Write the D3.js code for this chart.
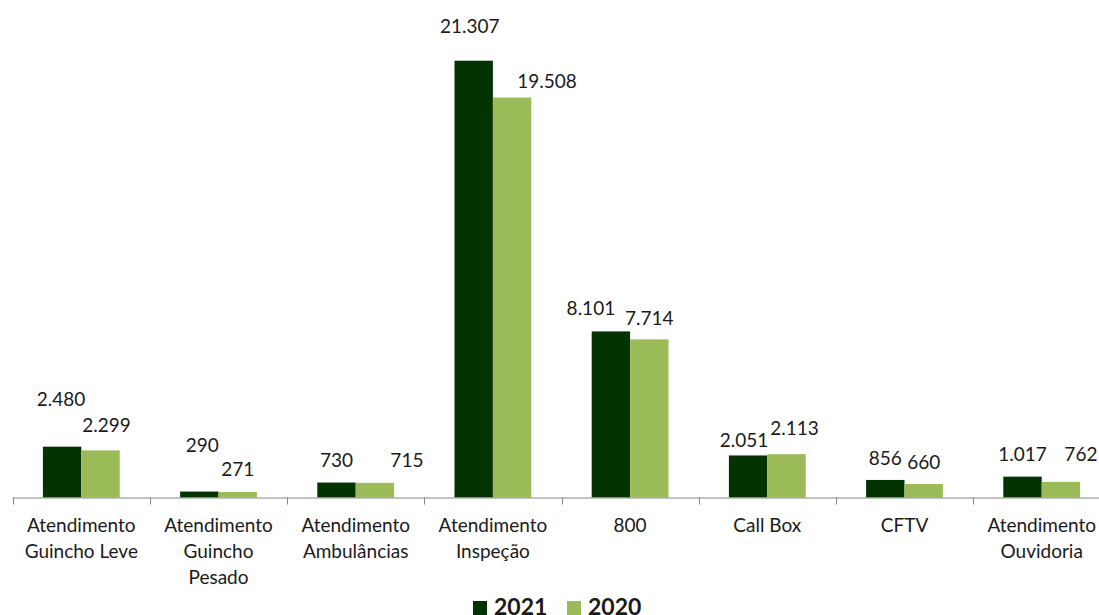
<!DOCTYPE html>
<html>
<head>
<meta charset="utf-8">
<script src="https://cdn.jsdelivr.net/npm/d3@7"></script>
<style>
  body { margin: 0; background: #fff; }
  svg text { font-family: Lato, "Open Sans", sans-serif; fill: #1a1a1a; }
  .axis-line { stroke: #868686; stroke-width: 1; }
</style>
</head>
<body>
<div id="chart"></div>
<script>
var categories = [
  ["Atendimento", "Guincho Leve"],
  ["Atendimento", "Guincho", "Pesado"],
  ["Atendimento", "Ambulâncias"],
  ["Atendimento", "Inspeção"],
  ["800"],
  ["Call Box"],
  ["CFTV"],
  ["Atendimento", "Ouvidoria"]
];
var series = ["2021", "2020"];
var values2021 = [2480, 290, 730, 21307, 8101, 2051, 856, 1017];
var values2020 = [2299, 271, 715, 19508, 7714, 2113, 660, 762];
var colors = ["#023300", "#9bbb59"];

var create_chart = function() {
  // Change these to fine-tune graph
  var width = 1099;
  var height = 615;
  var axis_left = 12.7;
  var band_width = 137.2;
  var group_gap = 30.2;
  var baseline = 497.5;
  var top_y = 60.7;
  var font_size = 19;
  // label nudges (px) so the value labels sit where the original put them
  var lift = [[40.7, 40, 15.5, 28, 16, 8.5, 15, 15.6],
              [18.7, 16, 15.8, 9.6, 14.4, 19, 15, 21]];
  var shift = [[-1, 3, 0, -4, -20, -4, 0, 0],
               [6, 0, 32, 35, 0, 8, 0, 20]];
  //////////////////////////////////

  var fmt = function(v) {
    return d3.format(",")(v).replace(/,/g, ".");
  };

  var keys = categories.map(function(c, i) { return "c" + i; });
  var values = [values2021, values2020];

  var x0 = d3.scaleBand()
      .domain(keys)
      .range([axis_left, axis_left + band_width * keys.length]);

  var x1 = d3.scaleBand()
      .domain(series)
      .range([group_gap, x0.bandwidth() - group_gap]);

  var y = d3.scaleLinear()
      .domain([0, d3.max(values2021.concat(values2020))])
      .range([baseline, top_y]);

  var svg = d3.select("#chart").append("svg")
      .attr("width", width)
      .attr("height", height);

  // Bars
  series.forEach(function(s, si) {
    svg.append("g").selectAll("rect")
        .data(values[si])
      .enter().append("rect")
        .attr("x", function(d, i) { return x0(keys[i]) + x1(s); })
        .attr("y", function(d) { return y(d); })
        .attr("width", x1.bandwidth())
        .attr("height", function(d) { return baseline - y(d); })
        .attr("fill", colors[si]);
  });

  // Value labels
  series.forEach(function(s, si) {
    svg.append("g").selectAll("text")
        .data(values[si])
      .enter().append("text")
        .attr("x", function(d, i) { return x0(keys[i]) + x1(s) + x1.bandwidth() / 2 + shift[si][i]; })
        .attr("y", function(d, i) { return y(d) - lift[si][i]; })
        .attr("text-anchor", "middle")
        .style("font-size", font_size + "px")
        .text(fmt);
  });

  // Axis
  var axis = d3.axisBottom(x0).tickSize(0).tickFormat("");
  var axis_g = svg.append("g")
      .attr("transform", "translate(0," + baseline + ")")
      .call(axis);
  axis_g.select(".domain").remove();

  axis_g.append("line")
      .attr("class", "axis-line")
      .attr("x1", axis_left)
      .attr("x2", width + 20)
      .attr("y1", 0.5)
      .attr("y2", 0.5);

  for (var i = 0; i <= keys.length; i++) {
    var tx = Math.round(axis_left + i * band_width) + 0.5;
    axis_g.append("line")
        .attr("class", "axis-line")
        .attr("x1", tx).attr("x2", tx)
        .attr("y1", 0).attr("y2", 7);
  }

  // Category labels
  categories.forEach(function(lines, i) {
    var t = svg.append("text")
        .attr("text-anchor", "middle")
        .style("font-size", font_size + "px");
    lines.forEach(function(line, li) {
      t.append("tspan")
          .attr("x", x0(keys[i]) + x0.bandwidth() / 2)
          .attr("y", baseline + 34 + li * 26)
          .text(line);
    });
  });

  // Legend
  var legend_x = [473, 567];
  series.forEach(function(s, si) {
    svg.append("rect")
        .attr("x", legend_x[si])
        .attr("y", 601)
        .attr("width", 14)
        .attr("height", 14)
        .attr("fill", colors[si]);
    svg.append("text")
        .attr("x", legend_x[si] + 21)
        .attr("y", 615)
        .style("font-size", "23px")
        .style("font-weight", "bold")
        .text(s);
  });
}

create_chart();
</script>
</body>
</html>
